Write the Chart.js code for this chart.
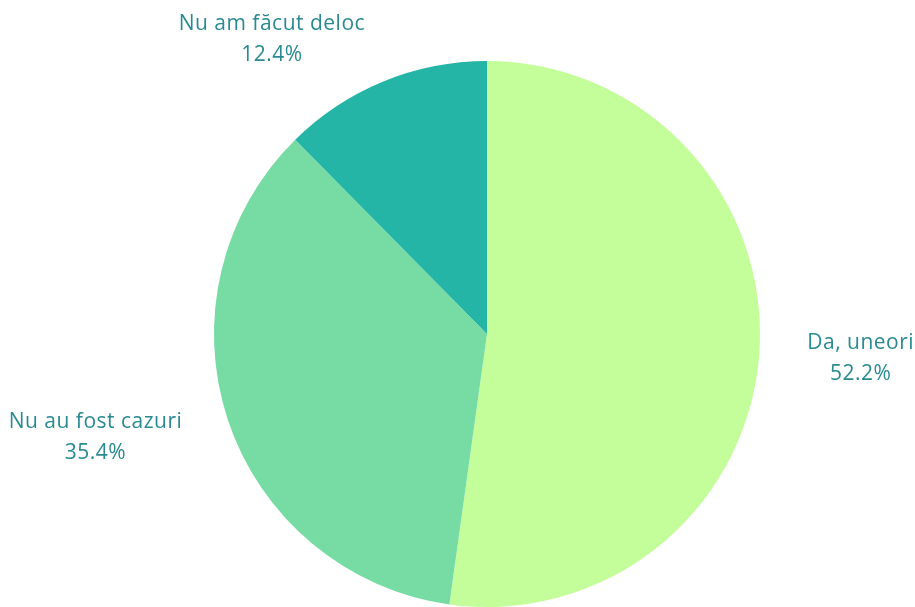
<!DOCTYPE html>
<html>
<head>
<meta charset="utf-8">
<script src="https://cdn.jsdelivr.net/npm/chart.js@4"></script>
<style>
html,body{margin:0;padding:0;background:#fff;}
#wrap{width:915px;height:607px;position:relative;}
</style>
</head>
<body>
<div id="wrap"><canvas id="c"></canvas></div>
<script>
const categories = ["Da, uneori", "Nu au fost cazuri", "Nu am făcut deloc"];
const values = [52.2, 35.4, 12.4];
const colors = ["#c3fe9a", "#76dca3", "#25b5a6"];

const labelPlugin = {
  id: 'outLabels',
  afterDatasetsDraw(chart) {
    const ctx = chart.ctx;
    const meta = chart.getDatasetMeta(0);
    const total = values.reduce((a, b) => a + b, 0);
    ctx.save();
    ctx.font = '21px "Open Sans", sans-serif';
    if ('letterSpacing' in ctx) ctx.letterSpacing = '0.5px';
    ctx.fillStyle = '#2a8a92';
    ctx.textBaseline = 'middle';
    ctx.textAlign = 'center';
    const lineH = 31;
    meta.data.forEach((arc, i) => {
      const p = arc.getProps(['x', 'y', 'startAngle', 'endAngle', 'outerRadius'], true);
      const mid = (p.startAngle + p.endAngle) / 2;
      const d = p.outerRadius + 48;
      const ax = p.x + Math.cos(mid) * d;
      const ay = p.y + Math.sin(mid) * d;
      const lines = [categories[i], (values[i] / total * 100).toFixed(1) + '%'];
      const w = Math.max(...lines.map(l => ctx.measureText(l).width));
      const cx = Math.cos(mid) >= 0 ? ax + w / 2 : ax - w / 2;
      const top = ay - lineH / 2 + 2;
      lines.forEach((l, k) => ctx.fillText(l, cx, top + k * lineH));
    });
    ctx.restore();
  }
};

new Chart(document.getElementById('c'), {
  type: 'pie',
  data: {
    labels: categories,
    datasets: [{ data: values, backgroundColor: colors, borderWidth: 0 }]
  },
  options: {
    responsive: true,
    maintainAspectRatio: false,
    animation: false,
    layout: { padding: { left: 59, right: 0, top: 61, bottom: 0 } },
    plugins: { legend: { display: false }, tooltip: { enabled: false } }
  },
  plugins: [labelPlugin]
});
</script>
</body>
</html>
